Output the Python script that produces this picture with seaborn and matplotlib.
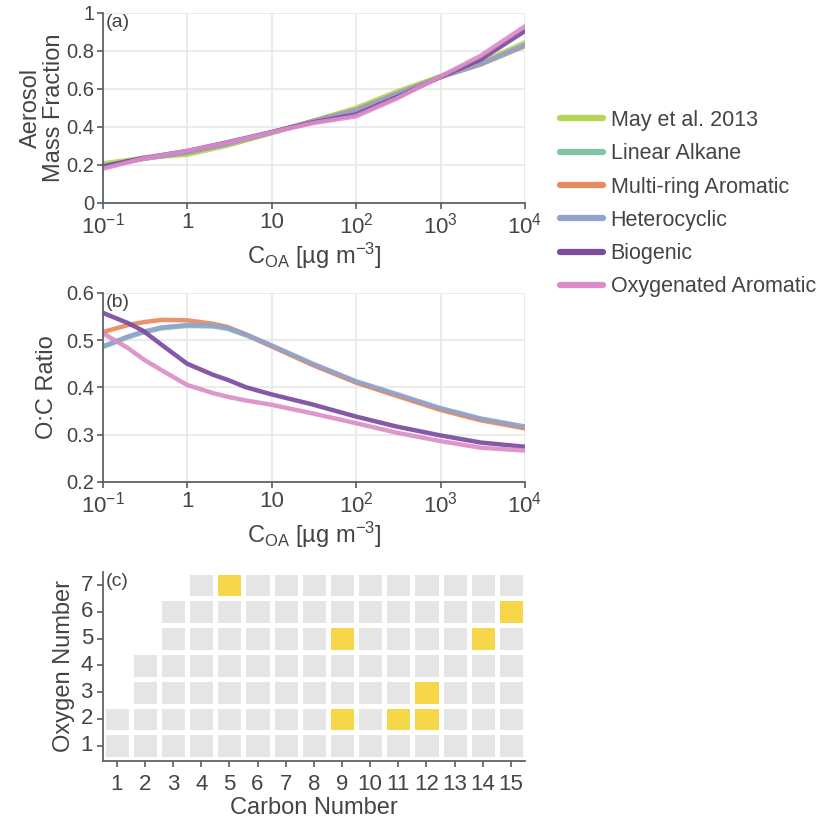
import numpy as np
import pandas as pd
import matplotlib
matplotlib.use("Agg")
import matplotlib.pyplot as plt
from matplotlib.colors import ListedColormap
from matplotlib.lines import Line2D
import seaborn as sns

# ---------------- data ----------------
series = ["May et al. 2013", "Linear Alkane", "Multi-ring Aromatic",
          "Heterocyclic", "Biogenic", "Oxygenated Aromatic"]
colors = ["#b5d654", "#80c4a6", "#e8895e", "#92a3cd", "#7b4b9e", "#dc8dc7"]

# panel (a): aerosol mass fraction vs C_OA
coa_a = [0.1, 0.3, 1, 3, 10, 30, 100, 300, 1000, 3000, 10000]
frac_may = [0.207, 0.235, 0.252, 0.300, 0.365, 0.430, 0.500, 0.585, 0.668, 0.740, 0.845]
frac_alkane = [0.195, 0.232, 0.262, 0.308, 0.368, 0.428, 0.490, 0.575, 0.662, 0.728, 0.825]
frac_multiring = [0.190, 0.230, 0.265, 0.310, 0.370, 0.428, 0.488, 0.572, 0.662, 0.730, 0.830]
frac_hetero = [0.190, 0.230, 0.265, 0.310, 0.370, 0.428, 0.485, 0.570, 0.663, 0.732, 0.833]
frac_biogenic = [0.190, 0.235, 0.272, 0.318, 0.372, 0.422, 0.465, 0.555, 0.662, 0.755, 0.905]
frac_oxyarom = [0.178, 0.232, 0.272, 0.316, 0.370, 0.418, 0.455, 0.548, 0.665, 0.775, 0.930]

# panel (b): O:C ratio vs C_OA (May et al. not shown)
coa_b = [0.1, 0.2, 0.3, 0.5, 1, 2, 3, 5, 10, 30, 100, 300, 1000, 3000, 10000]
oc_alkane = [0.485, 0.506, 0.516, 0.525, 0.530, 0.529, 0.524, 0.510, 0.487, 0.449, 0.411, 0.384, 0.354, 0.332, 0.315]
oc_multiring = [0.517, 0.532, 0.538, 0.543, 0.542, 0.535, 0.528, 0.512, 0.487, 0.448, 0.410, 0.382, 0.352, 0.330, 0.313]
oc_hetero = [0.487, 0.508, 0.518, 0.527, 0.532, 0.531, 0.526, 0.512, 0.489, 0.451, 0.413, 0.386, 0.356, 0.334, 0.317]
oc_biogenic = [0.558, 0.536, 0.520, 0.490, 0.450, 0.427, 0.416, 0.400, 0.385, 0.364, 0.338, 0.317, 0.298, 0.283, 0.274]
oc_oxyarom = [0.515, 0.483, 0.460, 0.436, 0.405, 0.388, 0.380, 0.372, 0.363, 0.345, 0.324, 0.304, 0.286, 0.272, 0.266]

# panel (c): carbon/oxygen number grid
carbon_numbers = list(range(1, 16))
oxygen_numbers = list(range(1, 8))
min_carbon_for_oxygen = [1, 1, 2, 2, 3, 3, 4]   # for oxygen 1..7
highlight_carbon = [5, 15, 9, 14, 12, 9, 11, 12]
highlight_oxygen = [7, 6, 5, 5, 3, 2, 2, 2]

x_ticks = [0.1, 1, 10, 100, 1000, 10000]
x_ticklabels = ["$10^{-1}$", "1", "10", "$10^{2}$", "$10^{3}$", "$10^{4}$"]

# ---------------- style ----------------
sns.set_theme(style="white")
plt.rcParams["font.family"] = ["Liberation Sans", "DejaVu Sans"]
plt.rcParams["mathtext.fontset"] = "custom"
plt.rcParams["mathtext.rm"] = "Liberation Sans"
plt.rcParams["mathtext.it"] = "Liberation Sans:italic"
plt.rcParams["mathtext.bf"] = "Liberation Sans:bold"
TXT = "#444444"
SPINE = "#5a646c"
GRID = "#e8e8e8"

palette = dict(zip(series, colors))

df_a = pd.concat([
    pd.DataFrame({"coa": coa_a, "val": v, "series": s})
    for s, v in zip(series, [frac_may, frac_alkane, frac_multiring,
                             frac_hetero, frac_biogenic, frac_oxyarom])
])
df_b = pd.concat([
    pd.DataFrame({"coa": coa_b, "val": v, "series": s})
    for s, v in zip(series[1:], [oc_alkane, oc_multiring, oc_hetero,
                                 oc_biogenic, oc_oxyarom])
])

fig = plt.figure(figsize=(8.19, 8.22), dpi=100)
ax_a = fig.add_axes([0.1254, 0.7536, 0.5156, 0.2306])
ax_b = fig.add_axes([0.1254, 0.4140, 0.5156, 0.2296])
ax_c = fig.add_axes([0.1254, 0.0742, 0.5156, 0.2303])


def style_line_axes(ax, ylim, yticks, ylabels):
    ax.set_xscale("log")
    ax.set_xlim(0.1, 10000)
    ax.set_ylim(*ylim)
    ax.set_xticks(x_ticks)
    ax.set_xticklabels(x_ticklabels)
    ax.xaxis.set_minor_locator(matplotlib.ticker.NullLocator())
    ax.set_yticks(yticks)
    ax.set_yticklabels(ylabels)
    ax.grid(True, color=GRID, linewidth=1.2)
    ax.set_axisbelow(True)
    for side in ["top", "right"]:
        ax.spines[side].set_visible(False)
    for side in ["left", "bottom"]:
        ax.spines[side].set_color(SPINE)
        ax.spines[side].set_linewidth(1.3)
    ax.tick_params(axis="x", which="major", direction="out", length=4,
                   color=SPINE, labelsize=16, labelcolor=TXT, pad=3,
                   bottom=True)
    ax.tick_params(axis="y", which="major", direction="out", length=4,
                   color=SPINE, labelsize=14.5, labelcolor=TXT, pad=2,
                   left=True)
    ax.set_xlabel(r"C$_{\mathrm{OA}}$ [µg m$^{-3}$]", fontsize=17,
                  color=TXT, labelpad=2)


sns.lineplot(data=df_a, x="coa", y="val", hue="series", palette=palette,
             hue_order=series, linewidth=3.2, alpha=0.92, ax=ax_a,
             legend=False)
style_line_axes(ax_a, (0, 1), [0, 0.2, 0.4, 0.6, 0.8, 1.0],
                ["0", "0.2", "0.4", "0.6", "0.8", "1"])
ax_a.set_ylabel("Aerosol\nMass Fraction", fontsize=17, color=TXT,
                labelpad=1, linespacing=1.05)
ax_a.text(0.008, 0.995, "(a)", transform=ax_a.transAxes, va="top",
          ha="left", fontsize=14, color=TXT)

sns.lineplot(data=df_b, x="coa", y="val", hue="series", palette=palette,
             hue_order=series[1:], linewidth=3.2, alpha=0.92, ax=ax_b,
             legend=False)
style_line_axes(ax_b, (0.2, 0.6), [0.2, 0.3, 0.4, 0.5, 0.6],
                ["0.2", "0.3", "0.4", "0.5", "0.6"])
ax_b.set_ylabel("O:C Ratio", fontsize=17, color=TXT, labelpad=6)
ax_b.text(0.008, 0.995, "(b)", transform=ax_b.transAxes, va="top",
          ha="left", fontsize=14, color=TXT)

# legend
handles = [Line2D([0], [0], color=c, linewidth=4.5) for c in colors]
fig.legend(handles, series, loc="upper left",
           bbox_to_anchor=(560 / 819, 1 - 110 / 822), frameon=False,
           fontsize=15.5, handlelength=2.0, handletextpad=0.35,
           labelspacing=0.57, borderpad=0, borderaxespad=0,
           labelcolor=TXT)

# heatmap panel (c)
grid = np.full((len(oxygen_numbers), len(carbon_numbers)), np.nan)
for oi, o in enumerate(oxygen_numbers):
    for c in carbon_numbers:
        if c >= min_carbon_for_oxygen[oi]:
            grid[oi, c - 1] = 0
for c, o in zip(highlight_carbon, highlight_oxygen):
    grid[o - 1, c - 1] = 1
df_c = pd.DataFrame(grid[::-1], index=oxygen_numbers[::-1],
                    columns=carbon_numbers)

sns.heatmap(df_c, ax=ax_c, cmap=ListedColormap(["#e5e5e5", "#f5d648"]),
            vmin=0, vmax=1, cbar=False, linewidths=2.2, linecolor="white",
            square=False)
ax_c.set_ylim(7.07, 0)
ax_c.set_xlim(0, 15)
for side in ["left", "bottom"]:
    ax_c.spines[side].set_visible(True)
    ax_c.spines[side].set_color(SPINE)
    ax_c.spines[side].set_linewidth(1.3)
for side in ["top", "right"]:
    ax_c.spines[side].set_visible(False)
ax_c.tick_params(axis="both", which="major", direction="out", length=4,
                 color=SPINE, labelsize=16, labelcolor=TXT,
                 left=True, bottom=True)
ax_c.tick_params(axis="x", pad=5)
ax_c.tick_params(axis="y", pad=3)
ax_c.set_xticklabels([str(c) for c in carbon_numbers], rotation=0)
ax_c.set_yticklabels([str(o) for o in oxygen_numbers[::-1]], rotation=0)
ax_c.set_xlabel("Carbon Number", fontsize=17, color=TXT, labelpad=2)
ax_c.set_ylabel("Oxygen Number", fontsize=17, color=TXT, labelpad=4)
ax_c.text(0.008, 0.995, "(c)", transform=ax_c.transAxes, va="top",
          ha="left", fontsize=14, color=TXT, zorder=5)

fig.savefig("out.png", dpi=100)
